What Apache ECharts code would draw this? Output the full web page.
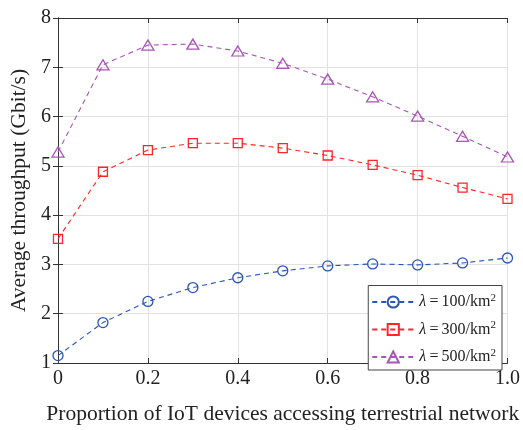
<!DOCTYPE html>
<html><head><meta charset="utf-8">
<script src="https://cdn.jsdelivr.net/npm/echarts@6/dist/echarts.min.js"></script>
<style>html,body{margin:0;padding:0;background:#fff}#c{width:523px;height:430px}</style>
</head><body><div id="c"></div>
<script>
const xValues = [0, 0.1, 0.2, 0.3, 0.4, 0.5, 0.6, 0.7, 0.8, 0.9, 1.0];
const lambda100 = [1.15, 1.82, 2.25, 2.53, 2.73, 2.87, 2.97, 3.01, 2.99, 3.03, 3.13];
const lambda300 = [3.52, 4.88, 5.32, 5.46, 5.46, 5.36, 5.21, 5.02, 4.81, 4.56, 4.33];
const lambda500 = [5.28, 7.05, 7.45, 7.47, 7.33, 7.08, 6.76, 6.40, 6.01, 5.60, 5.18];
const seriesNames = ['l100', 'l300', 'l500'];
const legendLabels = {l100: '100', l300: '300', l500: '500'};
const xTicks = [0, 0.2, 0.4, 0.6, 0.8, 1.0];
const yTicks = [1, 2, 3, 4, 5, 6, 7, 8];

const font = 'Liberation Serif';
const pair = arr => xValues.map((x, i) => [x, arr[i]]);
const colors = ['#2a55b5', '#ff2626', '#a656b4'];
const symbols = ['circle', 'rect', 'triangle'];
const sizes = [10, 9, [12, 10]];
const datas = [lambda100, lambda300, lambda500];

const chart = echarts.init(document.getElementById('c'), null, {renderer: 'canvas'});
const axisLine = {show: true, lineStyle: {color: '#333', width: 1}};
const series = seriesNames.map((n, i) => ({
  name: n, type: 'line', data: pair(datas[i]),
  symbol: symbols[i], symbolSize: sizes[i],
  itemStyle: {color: 'rgba(255,255,255,0)', borderColor: colors[i], borderWidth: 1.3},
  lineStyle: {color: colors[i], width: 1.1, type: [5, 4]},
  xAxisIndex: 0, yAxisIndex: 0, z: 3
}));
chart.setOption({
  animation: false,
  grid: {left: 58, right: 13, top: 18, bottom: 60, containLabel: false},
  xAxis: [{
    type: 'value', min: 0, max: 1, interval: 0.2,
    axisLine, axisTick: {show: true, inside: true, length: 5, lineStyle: {color: '#333'}},
    splitLine: {show: true, lineStyle: {color: '#e2e2e2', width: 1}},
    axisLabel: {fontFamily: font, fontSize: 20, color: '#222', margin: 6,
      formatter: v => (Math.abs(v - 1) < 1e-9 ? '1.0' : (v === 0 ? '0' : String(+v.toFixed(1))))},
    name: 'Proportion of IoT devices accessing terrestrial network',
    nameLocation: 'middle', nameGap: 40,
    nameTextStyle: {fontFamily: font, fontSize: 21.5, color: '#222'}
  }, {
    type: 'value', min: 0, max: 1, interval: 0.2, position: 'top',
    axisLine, axisTick: {show: true, inside: true, length: 5, lineStyle: {color: '#333'}},
    axisLabel: {show: false}, splitLine: {show: false}
  }],
  yAxis: [{
    type: 'value', min: 1, max: 8, interval: 1,
    axisLine, axisTick: {show: true, inside: true, length: 5, lineStyle: {color: '#333'}},
    splitLine: {show: true, lineStyle: {color: '#e2e2e2', width: 1}},
    axisLabel: {fontFamily: font, fontSize: 20, color: '#222', margin: 7},
    name: 'Average throughput (Gbit/s)', nameLocation: 'middle', nameGap: 22,
    nameTextStyle: {fontFamily: font, fontSize: 21.5, color: '#222'}
  }, {
    type: 'value', min: 1, max: 8, interval: 1, position: 'right',
    axisLine, axisTick: {show: true, inside: true, length: 5, lineStyle: {color: '#333'}},
    axisLabel: {show: false}, splitLine: {show: false}
  }],
  legend: {
    orient: 'vertical', right: 21, bottom: 60,
    backgroundColor: '#fff', borderColor: '#444', borderWidth: 1,
    padding: [7, 6, 5, 3], itemGap: 10, itemWidth: 42, itemHeight: 14,
    data: seriesNames,
    formatter: n => '{l|λ}{t|\u2009=\u2009' + legendLabels[n] + '/km}{s|2}',
    textStyle: {
      fontFamily: font, fontSize: 16, color: '#222',
      rich: {
        l: {fontFamily: font, fontStyle: 'italic', fontSize: 16, color: '#222'},
        t: {fontFamily: font, fontSize: 16, color: '#222'},
        s: {fontFamily: font, fontSize: 11, color: '#222', verticalAlign: 'top', padding: [0, 0, 8, 0]}
      }
    }
  },
  series
});
</script></body></html>
